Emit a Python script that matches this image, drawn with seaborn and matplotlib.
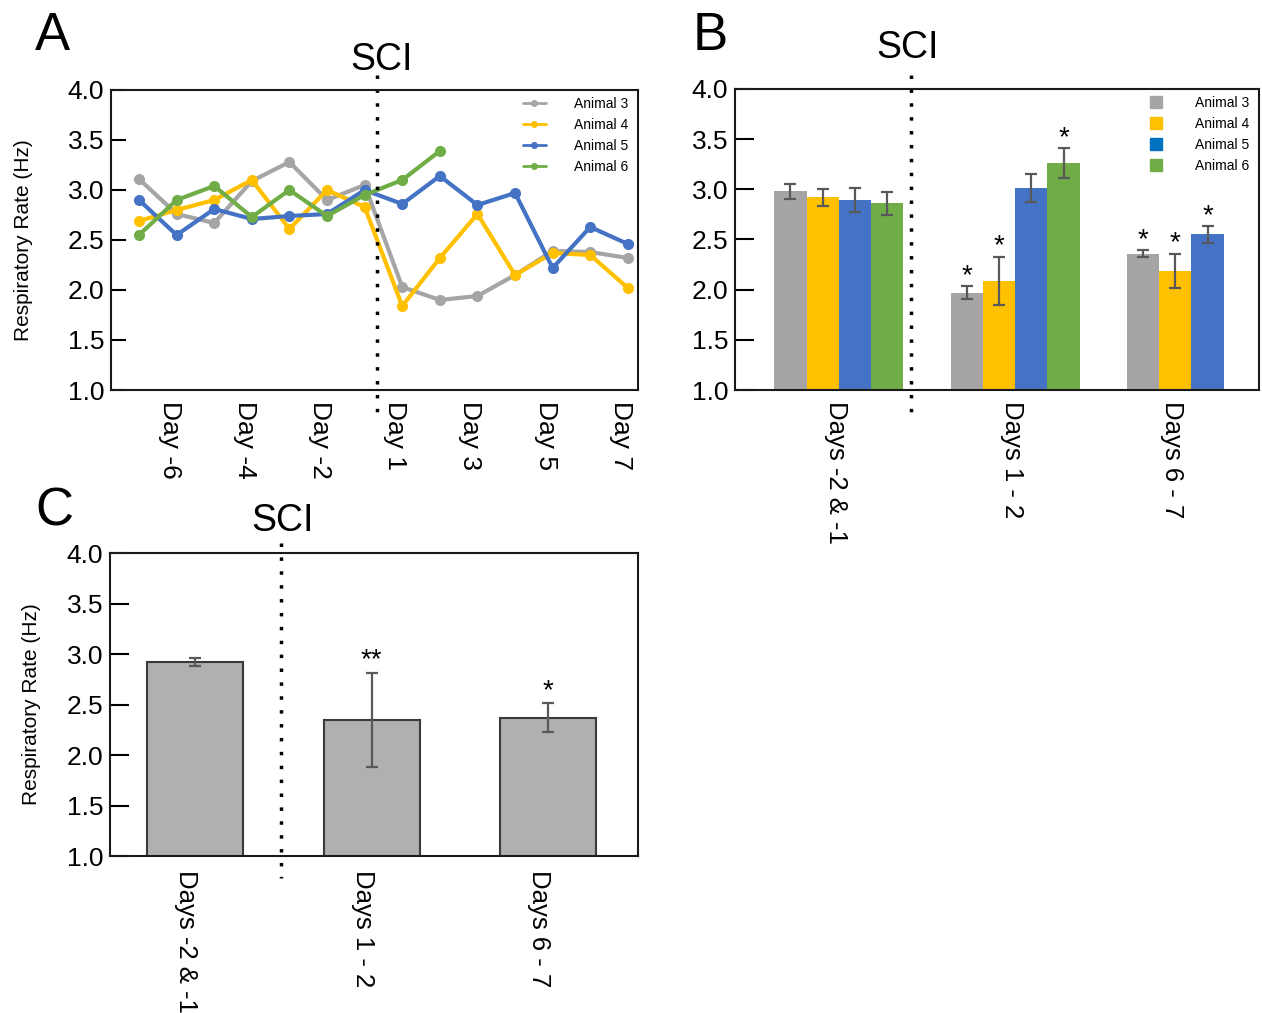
import numpy as np
import pandas as pd
import matplotlib
matplotlib.use("Agg")
import matplotlib.pyplot as plt
from matplotlib.lines import Line2D
from matplotlib.container import BarContainer
import matplotlib.transforms as mtransforms
import seaborn as sns

# ---------------- data ----------------
# Panel A: daily respiratory rate per animal
days = [-7, -6, -5, -4, -3, -2, -1, 1, 2, 3, 4, 5, 6, 7]
tick_days = [-6, -4, -2, 1, 3, 5, 7]
animals = ["Animal 3", "Animal 4", "Animal 5", "Animal 6"]
animal3 = [3.11, 2.76, 2.67, 3.09, 3.28, 2.90, 3.05, 2.03, 1.90, 1.94, 2.15, 2.39, 2.38, 2.32]
animal4 = [2.69, 2.80, 2.90, 3.10, 2.61, 3.00, 2.83, 1.84, 2.32, 2.76, 2.15, 2.37, 2.35, 2.02]
animal5 = [2.90, 2.55, 2.81, 2.71, 2.74, 2.76, 3.00, 2.86, 3.14, 2.85, 2.97, 2.22, 2.63, 2.46]
animal6 = [2.55, 2.90, 3.04, 2.73, 3.00, 2.74, 2.95, 3.10, 3.39, np.nan, np.nan, np.nan, np.nan, np.nan]

# Panel B: per-animal means by period
periods = ["Days -2 & -1", "Days 1 - 2", "Days 6 - 7"]
b_animal3 = [2.98, 1.97, 2.36]
b_animal4 = [2.92, 2.09, 2.19]
b_animal5 = [2.89, 3.01, 2.55]
b_animal6 = [2.86, 3.26, np.nan]
b_err3 = [0.077, 0.067, 0.032]
b_err4 = [0.088, 0.24, 0.17]
b_err5 = [0.12, 0.14, 0.083]
b_err6 = [0.115, 0.15, np.nan]
b_sig3 = ["", "*", "*"]
b_sig4 = ["", "*", "*"]
b_sig5 = ["", "", "*"]
b_sig6 = ["", "*", ""]

# Panel C: group means
c_means = [2.92, 2.35, 2.37]
c_errs = [0.042, 0.465, 0.146]
c_sig = ["", "**", "*"]

colors = ["#A5A5A5", "#FFC000", "#4472C4", "#70AD47"]
legend_b_colors = ["#A5A5A5", "#FFC000", "#0070C0", "#70AD47"]

# ---------------- style ----------------
sns.set_theme(style="white")
plt.rcParams["font.family"] = ["Liberation Sans", "DejaVu Sans"]
plt.rcParams["axes.linewidth"] = 1.5
plt.rcParams["axes.edgecolor"] = "#1a1a1a"
plt.rcParams["text.color"] = "black"
plt.rcParams["axes.labelcolor"] = "black"
plt.rcParams["xtick.color"] = "black"
plt.rcParams["ytick.color"] = "black"

fig = plt.figure(figsize=(12.62, 10.13), dpi=100)
W, H = 1262, 1013

def px_axes(l, t, r, b):
    return fig.add_axes([l / W, 1 - b / H, (r - l) / W, (b - t) / H])

axA = px_axes(111, 90, 638, 390)
axB = px_axes(735, 89, 1259, 390)
axC = px_axes(110, 553, 638, 856)

TICK_FS = 19
ERR_COLOR = "#595959"
DOT = (0, (1, 3))

def shift_xlabels(ax, dx_px):
    off = mtransforms.ScaledTranslation(dx_px / 100, 0, fig.dpi_scale_trans)
    for lab in ax.get_xticklabels():
        lab.set_transform(lab.get_transform() + off)

# ---------------- Panel A ----------------
series = [animal3, animal4, animal5, animal6]
rows = []
for name, vals in zip(animals, series):
    for i, (d, v) in enumerate(zip(days, vals)):
        rows.append({"pos": i, "day": d, "rate": v, "animal": name})
dfA = pd.DataFrame(rows).dropna()

sns.lineplot(data=dfA, x="pos", y="rate", hue="animal", hue_order=animals,
             palette=colors, marker="o", markersize=8, markeredgewidth=0,
             linewidth=3, ax=axA, legend=False, estimator=None, sort=True)
axA.set_xlim(-0.745, 13.27)
axA.set_ylim(1.0, 4.0)
axA.set_yticks(np.arange(1.0, 4.01, 0.5))
axA.set_yticklabels([f"{v:.1f}" for v in np.arange(1.0, 4.01, 0.5)])
tick_pos = [days.index(d) for d in tick_days]
axA.set_xticks(tick_pos)
axA.set_xticklabels([f"Day {d}" for d in tick_days], rotation=-90)
axA.set_xlabel("")
axA.set_ylabel("Respiratory Rate (Hz)", fontsize=15)
axA.yaxis.set_label_coords(-0.148, 0.5)
axA.tick_params(axis="y", direction="in", length=11, width=1.5,
                labelsize=TICK_FS, pad=5, left=True)
axA.tick_params(axis="x", length=0, labelsize=TICK_FS, pad=8)
shift_xlabels(axA, -7)
sci_a = days.index(-1) + 0.32
axA.plot([sci_a, sci_a], [4.15, 0.78], ls=DOT, color="black", lw=2.5, clip_on=False)
axA.text(sci_a + 0.13, 4.2, "SCI", fontsize=27, ha="center", va="baseline")
hA = [Line2D([0], [0], color=c, lw=2, marker="o", markersize=4) for c in colors]
axA.legend(hA, animals, loc="upper right", bbox_to_anchor=(1.0, 1.008),
           frameon=False, fontsize=10, handlelength=1.7, handletextpad=2.0,
           labelspacing=0.5, borderaxespad=0.3)

# ---------------- Panel B ----------------
b_means = [b_animal3, b_animal4, b_animal5, b_animal6]
b_errs = [b_err3, b_err4, b_err5, b_err6]
b_sigs = [b_sig3, b_sig4, b_sig5, b_sig6]
rowsB = []
for name, m, e, s in zip(animals, b_means, b_errs, b_sigs):
    for p, mv, ev, sv in zip(periods, m, e, s):
        rowsB.append({"period": p, "animal": name, "rate": mv, "err": ev, "sig": sv})
dfB = pd.DataFrame(rowsB).dropna()

sns.barplot(data=dfB, x="period", y="rate", hue="animal", order=periods,
            hue_order=animals, palette=colors, width=0.732, errorbar=None,
            saturation=1, linewidth=0, ax=axB, legend=False)
bar_conts = [c for c in axB.containers if isinstance(c, BarContainer)]
for hi, cont in enumerate(bar_conts):
    for bar in cont.patches:
        if bar is None:
            continue
        xc = bar.get_x() + bar.get_width() / 2
        gi = int(round(xc))
        rec = dfB[(dfB["animal"] == animals[hi]) & (dfB["period"] == periods[gi])]
        if rec.empty:
            continue
        m = rec["rate"].iloc[0]
        e = rec["err"].iloc[0]
        axB.errorbar(xc, m, yerr=e, color=ERR_COLOR, capsize=4, elinewidth=1.6,
                     capthick=1.6, fmt="none")
        s = rec["sig"].iloc[0]
        if s:
            axB.text(xc, m + e + 0.03, s, ha="center", va="baseline", fontsize=20)

axB.set_xlim(-0.589, 2.383)
axB.set_ylim(1.0, 4.0)
axB.set_yticks(np.arange(1.0, 4.01, 0.5))
axB.set_yticklabels([f"{v:.1f}" for v in np.arange(1.0, 4.01, 0.5)])
bw = 0.732 / 4
present = dfB.groupby("period")["animal"].count().reindex(periods).values
axB.set_xticks([i - (4 - n) * bw / 2 for i, n in enumerate(present)])
axB.set_xticklabels(periods, rotation=-90)
axB.set_xlabel("")
axB.set_ylabel("")
axB.tick_params(axis="y", direction="in", length=14, width=1.5,
                labelsize=TICK_FS, pad=5, left=True)
axB.tick_params(axis="x", length=0, labelsize=18.5, pad=8)
shift_xlabels(axB, -3)
sci_b = 0.408
axB.plot([sci_b, sci_b], [4.14, 0.70], ls=DOT, color="black", lw=2.5, clip_on=False)
axB.text(sci_b - 0.02, 4.31, "SCI", fontsize=27, ha="center", va="baseline")
hB = [Line2D([0], [0], color=c, lw=0, marker="s", markersize=9) for c in legend_b_colors]
axB.legend(hB, animals, loc="upper right", bbox_to_anchor=(1.0, 1.008),
           frameon=False, fontsize=10, handlelength=1.0, handletextpad=2.3,
           labelspacing=0.5, borderaxespad=0.3)

# ---------------- Panel C ----------------
dfC = pd.DataFrame({"period": periods, "rate": c_means, "err": c_errs, "sig": c_sig})
sns.barplot(data=dfC, x="period", y="rate", order=periods, color="#B0B0B0",
            width=0.544, errorbar=None, saturation=1, edgecolor="#3a3a3a",
            linewidth=1.5, ax=axC)
c_bars = list(axC.patches)
for bar, (_, r) in zip(c_bars, dfC.iterrows()):
    xc = bar.get_x() + bar.get_width() / 2
    axC.errorbar(xc, r["rate"], yerr=r["err"], color=ERR_COLOR, capsize=4,
                 elinewidth=1.6, capthick=1.6, fmt="none")
    if r["sig"]:
        axC.text(xc, r["rate"] + r["err"] + 0.05, r["sig"], ha="center",
                 va="baseline", fontsize=20)
axC.set_xlim(-0.482, 2.508)
axC.set_ylim(1.0, 4.0)
axC.set_yticks(np.arange(1.0, 4.01, 0.5))
axC.set_yticklabels([f"{v:.1f}" for v in np.arange(1.0, 4.01, 0.5)])
axC.set_xticks(range(len(periods)))
axC.set_xticklabels(periods, rotation=-90)
axC.set_xlabel("")
axC.set_ylabel("Respiratory Rate (Hz)", fontsize=15)
axC.yaxis.set_label_coords(-0.131, 0.5)
axC.tick_params(axis="y", direction="in", length=14, width=1.5,
                labelsize=TICK_FS, pad=5, left=True)
axC.tick_params(axis="x", length=0, labelsize=18.5, pad=10)
shift_xlabels(axC, -9)
sci_c = 0.485
axC.plot([sci_c, sci_c], [4.1, 0.78], ls=DOT, color="black", lw=2.5, clip_on=False)
axC.text(sci_c + 0.01, 4.22, "SCI", fontsize=27, ha="center", va="baseline")

for ax in (axA, axB, axC):
    for sp in ax.spines.values():
        sp.set_visible(True)
        sp.set_linewidth(1.5)
        sp.set_color("#1a1a1a")

# panel letters
fig.text(35 / W, 1 - 50 / H, "A", fontsize=38, ha="left", va="baseline")
fig.text(693 / W, 1 - 50 / H, "B", fontsize=38, ha="left", va="baseline")
fig.text(35 / W, 1 - 525 / H, "C", fontsize=38, ha="left", va="baseline")

fig.savefig("out.png", dpi=100)
